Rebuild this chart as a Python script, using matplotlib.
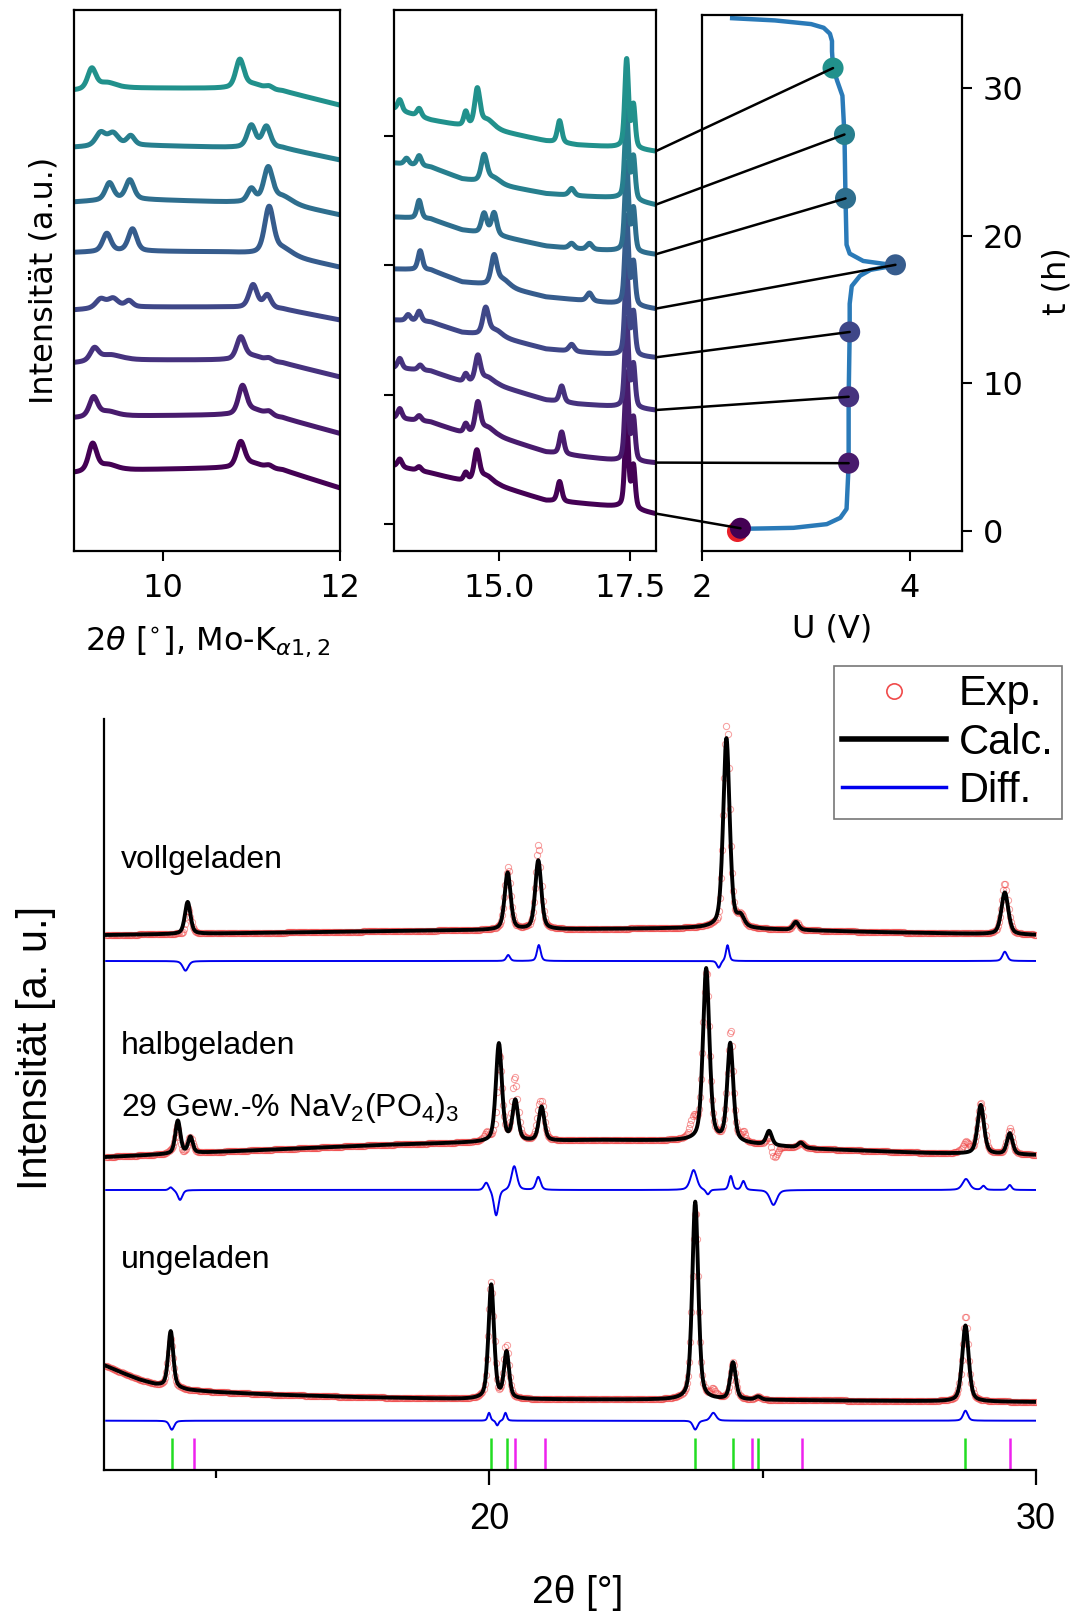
import numpy as np
import matplotlib
matplotlib.use("Agg")
import matplotlib.pyplot as plt
from matplotlib.patches import ConnectionPatch
from matplotlib.lines import Line2D

# ======================= DATA =======================
# --- top: in-situ scans, operando cell ---
scan_time_h = [0.19, 4.60, 9.10, 13.49, 18.04, 22.54, 26.87, 31.37]
scan_voltage_V = [2.37, 3.41, 3.41, 3.42, 3.86, 3.38, 3.37, 3.26]

curve_t_h = [0.15, 0.18, 0.22, 0.47, 0.9, 1.5, 4.5, 9.0, 13.5, 15.4, 16.6, 17.3, 17.7,
             18.0, 18.3, 18.8, 19.4, 22.5, 26.8, 29.5, 30.5, 31.4, 32.5, 33.2, 33.7,
             34.1, 34.35, 34.6, 34.75]
curve_U_V = [2.34, 2.60, 2.88, 3.20, 3.33, 3.39, 3.41, 3.41, 3.42, 3.42, 3.44, 3.52, 3.62,
             3.86, 3.55, 3.42, 3.39, 3.38, 3.37, 3.35, 3.30, 3.26, 3.25, 3.25, 3.23,
             3.17, 3.05, 2.70, 2.29]

# low-angle window 9-12 deg (Mo-K alpha): background nodes + peaks (pos, height, fwhm)
lo_bg_x = [9.0, 9.6, 10.7, 11.35, 12.0]
lo_bg_y = [
    [76, 79, 81, 79, 61],
    [131, 133, 134, 131, 115.5],
    [186, 189, 189, 186, 172],
    [239, 242, 242, 240, 229],
    [296.5, 298, 297, 294, 281.7],
    [347, 350, 347, 346, 334],
    [401.7, 404, 401.7, 401, 389],
    [458.5, 461, 460.6, 458, 443.8],
]
lo_peaks = [
    [(9.21, 27, .11), (9.38, 6, .25), (10.88, 25, .11), (11.02, 5, .25), (11.2, 3, .1)],
    [(9.22, 19, .11), (9.38, 5, .25), (10.90, 28, .11), (11.04, 6, .25), (11.2, 4, .1)],
    [(9.23, 12, .11), (9.40, 6, .3), (10.88, 22, .11), (11.02, 5, .25), (11.2, 3, .1)],
    [(9.30, 9, .13), (9.44, 9, .14), (9.62, 6, .1), (11.02, 23, .11), (11.18, 13, .1)],
    [(9.37, 18, .11), (9.66, 22, .11), (11.2, 46, .12), (11.36, 6, .25)],
    [(9.40, 17, .11), (9.63, 19, .11), (11.00, 13, .1), (11.19, 34, .12), (11.36, 6, .25)],
    [(9.30, 13, .13), (9.44, 12, .14), (9.64, 9, .1), (11.0, 22, .11), (11.17, 21, .11)],
    [(9.20, 20, .11), (9.37, 6, .25), (10.87, 28, .11), (11.02, 5, .25), (11.2, 3, .1)],
]

# high-angle window 13-18 deg
hi_bg_x = [13.0, 13.7, 14.3, 15.0, 15.9, 16.5, 17.3, 18.0]
hi_bg_y = [
    [83, 76, 68, 63, 48.5, 46, 42, 35],
    [131, 127, 116, 112, 97, 93, 88, 86],
    [181, 178, 167, 163, 149, 145, 142, 138.6],
    [229, 227, 216.5, 212, 200, 197, 194, 191.3],
    [280, 279, 267, 263, 252, 249, 245, 240],
    [332, 330, 319, 313, 303, 300, 298, 294.4],
    [386, 382, 370, 364, 355.4, 353, 351, 344],
    [440, 429, 423, 418, 408, 404, 401.7, 397.5],
]
hi_peaks = [
    [(13.11, 8, .1), (13.48, 4, .1), (14.37, 8, .09), (14.58, 30, .12), (14.76, 8, .3),
     (16.16, 20, .1), (17.44, 88, .085), (17.57, 42, .08)],
    [(13.11, 10, .1), (13.48, 5, .1), (14.37, 9, .09), (14.60, 30, .12), (14.78, 8, .3),
     (16.20, 22, .1), (17.44, 88, .085), (17.57, 42, .08)],
    [(13.11, 10, .1), (13.50, 5, .1), (14.37, 8, .09), (14.60, 26, .12), (14.78, 7, .3),
     (16.20, 16, .1), (17.44, 88, .085), (17.57, 42, .08)],
    [(13.27, 6, .1), (13.48, 10, .1), (14.75, 26, .13), (14.93, 6, .3), (16.39, 7, .12),
     (17.44, 88, .085), (17.57, 42, .08)],
    [(13.50, 19, .1), (14.91, 28, .13), (15.08, 7, .3), (16.73, 8, .12),
     (17.44, 88, .085), (17.57, 42, .08)],
    [(13.48, 18, .1), (14.72, 20, .12), (14.91, 22, .12), (16.39, 5, .12), (16.73, 6, .12),
     (17.44, 88, .085), (17.57, 42, .08)],
    [(13.24, 6, .1), (13.48, 10, .1), (14.72, 26, .13), (14.9, 6, .3), (16.39, 7, .12),
     (17.44, 88, .085), (17.57, 42, .08)],
    [(13.11, 11, .1), (13.48, 8, .1), (14.37, 14, .09), (14.59, 37, .12), (14.78, 9, .3),
     (16.16, 22, .1), (17.44, 88, .085), (17.57, 42, .08)],
]

# --- bottom: Rietveld refinements ---
voll_bg_x = [13, 17, 20, 24, 27, 30]
voll_bg_y = [535, 538, 540, 542, 538, 535]
voll_peaks = [(14.49, 32, .12), (20.34, 57, .13), (20.90, 69, .13), (24.34, 190, .14),
              (24.60, 10, .15), (25.61, 8, .12), (29.43, 42, .15)]
voll_diff_base = 509
voll_diff = [(14.45, -9.7, .12), (20.35, 6, .08), (20.91, 16, .08), (24.2, -7, .08),
             (24.36, 16, .07), (29.43, 9.3, .1)]

halb_bg_x = [13, 15, 18, 20, 22, 24, 26, 28, 30]
halb_bg_y = [313, 318, 325, 328, 330, 329, 321, 317, 315]
halb_peaks = [(14.31, 33, .11), (14.54, 16, .1), (20.18, 98, .13), (20.48, 40, .12),
              (20.96, 34, .12), (23.97, 172, .14), (24.41, 98, .13), (25.12, 14, .12),
              (25.70, 5, .12), (28.99, 49, .14), (29.52, 21, .12)]
halb_diff_base = 280
halb_diff = [(14.18, 3, .08), (14.35, -10, .1), (19.95, 8, .1), (20.13, -26, .1),
             (20.46, 24, .12), (20.9, 13, .1), (23.74, 20, .14), (24.0, -5, .08),
             (24.42, 14, .08), (24.65, 9, .08), (25.2, -15, .15), (28.72, 11, .15),
             (29.04, 4, .08), (29.52, 5, .08)]

un_bg_x = [13.0, 13.3, 13.6, 13.9, 14.5, 15.0, 16.0, 17.5, 19.5, 22, 25, 30]
un_bg_y = [104, 97, 90.5, 85.5, 80, 78, 75.5, 73, 71, 70.5, 70, 68]
un_peaks = [(14.18, 56, .11), (20.04, 114, .12), (20.32, 46, .11), (23.77, 198, .13),
            (24.46, 37, .12), (24.92, 3, .12), (28.71, 76, .14)]
un_diff_base = 49.3
un_diff = [(14.2, -9, .1), (20.0, 8, .06), (20.15, -5, .06), (20.3, 8, .06),
           (23.77, -9, .1), (24.1, 8, .12), (28.71, 10, .1)]

refl_green = [14.20, 20.04, 20.32, 23.77, 24.46, 24.92, 28.71]
refl_magenta = [14.60, 20.48, 21.02, 24.80, 25.72, 29.52]


def profile(x, peaks, eta=0.45):
    y = np.zeros_like(x)
    for p, h, w in peaks:
        d = (x - p) / w
        y += h * (eta / (1 + 4 * d ** 2) + (1 - eta) * np.exp(-4 * np.log(2) * d ** 2))
    return y


# ======================= FIGURE =======================
W, H, DPI = 1076, 1611, 100
fig = plt.figure(figsize=(W / DPI, H / DPI), dpi=DPI)
fig.patch.set_facecolor("white")


def fax(x0, y0, x1, y1):
    return fig.add_axes([x0 / W, 1 - y1 / H, (x1 - x0) / W, (y1 - y0) / H])


ax_l = fax(74, 10, 340, 551)
ax_m = fax(394, 10, 656, 551)
ax_r = fax(702, 14.5, 962, 551)
ax_b = fax(104, 719, 1036, 1470)

cols = plt.get_cmap("viridis")(np.linspace(0, 0.5, 8))
TOP_FS = 23

# ---- left window ----
xl = np.linspace(9.0, 12.0, 700)
for i in range(8):
    y = np.interp(xl, lo_bg_x, lo_bg_y[i]) + profile(xl, lo_peaks[i])
    ax_l.plot(xl, y, color=cols[i], lw=3.6, solid_capstyle="round")
ax_l.set_xlim(9.0, 12.0)
ax_l.set_ylim(-2, 539)
ax_l.set_xticks([10, 12])
ax_l.set_yticks([])

# ---- middle window ----
xm = np.linspace(13.0, 18.0, 1200)
ends = []
for i in range(8):
    y = np.interp(xm, hi_bg_x, hi_bg_y[i]) + profile(xm, hi_peaks[i])
    ax_m.plot(xm, y, color=cols[i], lw=3.6, solid_capstyle="round")
    ends.append(y[-1])
ax_m.set_xlim(13.0, 18.0)
ax_m.set_ylim(-2, 539)
ax_m.set_xticks([15.0, 17.5])
ax_m.set_xticklabels(["15.0", "17.5"])
ax_m.set_yticks([25, 154, 284, 413])
ax_m.set_yticklabels([])

# ---- right: potential vs time ----
ax_r.plot(curve_U_V, curve_t_h, color="#2a7ab8", lw=3.2, zorder=2)
ax_r.scatter([scan_voltage_V[0] - 0.03], [scan_time_h[0] - 0.2], s=230, color="#e8202a",
             zorder=3, linewidths=0)
ax_r.scatter(scan_voltage_V, scan_time_h, s=230, c=cols, zorder=4, linewidths=0)
ax_r.set_xlim(2, 4.5)
ax_r.set_ylim(-1.35, 35.0)
ax_r.set_xticks([2, 4])
ax_r.set_yticks([0, 10, 20, 30])
ax_r.yaxis.tick_right()

for ax in (ax_l, ax_m, ax_r):
    for s in ax.spines.values():
        s.set_linewidth(1.6)
    ax.tick_params(labelsize=TOP_FS, length=7, width=1.5, pad=9)
ax_r.tick_params(axis="y", pad=8)

for i in range(8):
    con = ConnectionPatch(xyA=(18.0, ends[i]), coordsA=ax_m.transData,
                          xyB=(scan_voltage_V[i], scan_time_h[i]), coordsB=ax_r.transData,
                          color="black", lw=1.8, zorder=10)
    fig.add_artist(con)

fig.text(208 / W, 1 - 642 / H, r"$2\theta$ [$^{\circ}$], Mo-K$_{\alpha 1,2}$",
         fontsize=TOP_FS, ha="center", va="center")
fig.text(44 / W, 1 - 280 / H, "Intensität (a.u.)", fontsize=TOP_FS, rotation=90,
         ha="center", va="center")
fig.text(832 / W, 1 - 629 / H, "U (V)", fontsize=TOP_FS, ha="center", va="center")
fig.text(1057 / W, 1 - 281 / H, "t (h)", fontsize=TOP_FS, rotation=90,
         ha="center", va="center")

# ---- bottom: refinements ----
BF = "Liberation Sans"
xb = np.linspace(13.0, 30.0, 1701)
sets = [
    (voll_bg_x, voll_bg_y, voll_peaks, voll_diff_base, voll_diff),
    (halb_bg_x, halb_bg_y, halb_peaks, halb_diff_base, halb_diff),
    (un_bg_x, un_bg_y, un_peaks, un_diff_base, un_diff),
]
for bgx, bgy, pk, dbase, dpk in sets:
    calc = np.interp(xb, bgx, bgy) + profile(xb, pk)
    resid = profile(xb, dpk)
    exp = calc + resid
    ax_b.plot(xb[::2], exp[::2], ls="none", marker="o", ms=4.5, mfc="none",
              mec="#f04a4a", mew=0.7, alpha=0.55, zorder=2)
    ax_b.plot(xb, calc, color="black", lw=2.8, zorder=3)
    ax_b.plot(xb, dbase + resid, color="#0000ee", lw=1.4, zorder=3)

ax_b.vlines(refl_green, 0, 32, color="#22dd22", lw=1.8)
ax_b.vlines(refl_magenta, 0, 32, color="#ee22ee", lw=1.8)

ax_b.set_xlim(12.96, 30)
ax_b.set_ylim(0, 751)
ax_b.set_xticks([20, 30])
ax_b.set_xticks([15, 25], minor=True)
ax_b.set_yticks([])
ax_b.spines["top"].set_visible(False)
ax_b.spines["right"].set_visible(False)
ax_b.spines["left"].set_linewidth(1.6)
ax_b.spines["bottom"].set_linewidth(1.6)
ax_b.tick_params(axis="x", which="major", length=11, width=1.6, pad=12, labelsize=26)
ax_b.tick_params(axis="x", which="minor", length=6, width=1.6)
for lab in ax_b.get_xticklabels():
    lab.set_family(BF)

LBL_FS = 23
ax_b.text(13.27, 610, "vollgeladen", fontsize=LBL_FS, family=BF, va="center", ha="left")
ax_b.text(13.27, 424, "halbgeladen", fontsize=LBL_FS, family=BF, va="center", ha="left")
ax_b.text(13.27, 362, r"29 Gew.-% NaV$_\mathregular{2}$(PO$_\mathregular{4}$)$_\mathregular{3}$",
          fontsize=LBL_FS, family=BF, va="center", ha="left")
ax_b.text(13.27, 210, "ungeladen", fontsize=LBL_FS, family=BF, va="center", ha="left")

fig.text(36 / W, 1 - 1048 / H, "Intensität [a. u.]", fontsize=30, family=BF, rotation=90,
         ha="center", va="center")
fig.text(578 / W, 1 - 1593 / H, "2θ [°]", fontsize=28, family=BF, ha="center", va="center")

handles = [
    Line2D([], [], ls="none", marker="o", ms=11, mfc="none", mec="#f04a4a", mew=1.2),
    Line2D([], [], color="black", lw=4),
    Line2D([], [], color="#0000ee", lw=2.5),
]
leg = fig.legend(handles, ["Exp.", "Calc.", "Diff."], loc="upper right",
                 bbox_to_anchor=(1062 / W, 1 - 666 / H), bbox_transform=fig.transFigure,
                 frameon=True, fancybox=False, edgecolor="#555555",
                 prop={"family": BF, "size": 30}, handlelength=2.5, handletextpad=0.3,
                 labelspacing=0.2, borderpad=0.2, borderaxespad=0)
leg.get_frame().set_linewidth(1.2)

fig.savefig("out.png", dpi=DPI, facecolor="white")
